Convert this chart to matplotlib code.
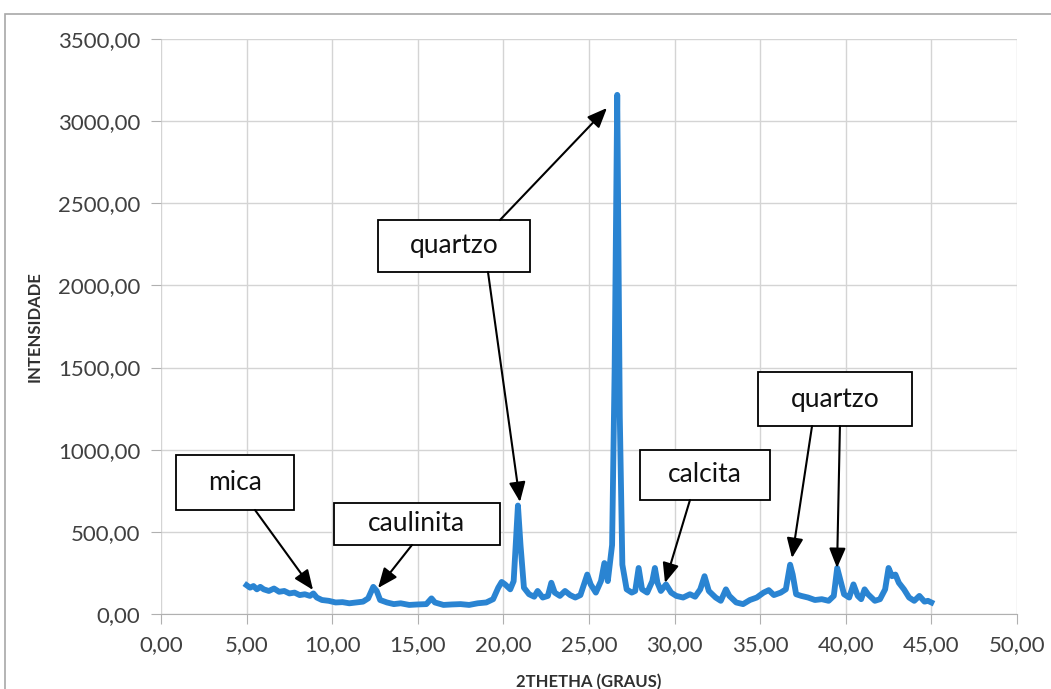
import numpy as np
import matplotlib
matplotlib.use("Agg")
import matplotlib.pyplot as plt
from matplotlib.patches import Rectangle
from matplotlib.ticker import FuncFormatter, MultipleLocator

# difratograma (2theta em graus, intensidade)
theta = [5.0, 5.2, 5.4, 5.6, 5.8, 6.0, 6.3, 6.6, 6.9, 7.2, 7.5, 7.8, 8.1, 8.4,
         8.7, 8.9, 9.1, 9.4, 9.8, 10.2, 10.6, 11.0, 11.4, 11.8, 12.1, 12.4,
         12.6, 12.8, 13.2, 13.6, 14.0, 14.5, 15.0, 15.5, 15.8, 16.0, 16.5,
         17.0, 17.5, 18.0, 18.5, 19.0, 19.4, 19.7, 19.9, 20.1, 20.4, 20.6,
         20.85, 21.0, 21.2, 21.5, 21.8, 22.0, 22.3, 22.6, 22.8, 23.0, 23.3,
         23.6, 23.9, 24.2, 24.5, 24.9, 25.1, 25.4, 25.7, 25.9, 26.1, 26.35,
         26.5, 26.65, 26.8, 26.95, 27.2, 27.5, 27.7, 27.9, 28.1, 28.4, 28.7,
         28.85, 29.0, 29.2, 29.5, 29.8, 30.1, 30.5, 30.9, 31.2, 31.5, 31.75,
         32.0, 32.4, 32.7, 33.0, 33.2, 33.6, 34.0, 34.4, 34.8, 35.2, 35.5,
         35.8, 36.2, 36.5, 36.75, 36.9, 37.1, 37.4, 37.8, 38.2, 38.6, 39.0,
         39.3, 39.5, 39.7, 39.9, 40.2, 40.45, 40.7, 40.9, 41.1, 41.3, 41.7,
         42.0, 42.3, 42.5, 42.7, 42.9, 43.1, 43.4, 43.7, 44.0, 44.3, 44.6,
         44.8, 45.0]
intens = [175, 160, 170, 150, 165, 150, 140, 155, 135, 140, 125, 130, 115, 120,
          110, 125, 100, 85, 80, 70, 72, 65, 70, 75, 95, 165,
          140, 85, 70, 60, 65, 55, 58, 60, 95, 70, 55,
          58, 60, 55, 65, 70, 90, 160, 195, 180, 150, 200,
          660, 420, 160, 120, 105, 140, 100, 110, 190, 130, 110,
          140, 115, 100, 115, 240, 180, 130, 200, 310, 200, 420,
          1500, 3160, 1200, 300, 150, 130, 140, 280, 150, 130, 200,
          280, 190, 140, 180, 130, 110, 100, 120, 105, 150, 230,
          140, 100, 80, 150, 110, 70, 60, 85, 100, 130, 145,
          115, 130, 150, 300, 240, 120, 110, 100, 85, 90, 80,
          110, 280, 200, 120, 100, 180, 110, 90, 150, 120, 80,
          90, 150, 280, 230, 240, 190, 150, 100, 80, 110, 75,
          80, 70]

# rotulos: texto, caixa (x0, x1, y0, y1), setas [(inicio, ponta)]
labels = ["mica", "caulinita", "quartzo", "calcita", "quartzo"]
boxes = [(0.88, 7.77, 633, 968), (10.08, 19.8, 420, 676),
         (12.68, 21.55, 2082, 2398), (27.98, 35.57, 694, 998),
         (34.87, 43.87, 1144, 1473)]
arrows = [[((5.49, 633), (8.88, 146))],
          [((14.66, 420), (12.68, 158))],
          [((19.8, 2398), (26.05, 3080)), ((19.1, 2082), (20.97, 682))],
          [((30.9, 694), (29.44, 189))],
          [((38.03, 1144), (36.86, 341)), ((39.66, 1144), (39.49, 280))]]

plt.rcParams["font.family"] = ["Lato", "DejaVu Sans"]

fig = plt.figure(figsize=(10.51, 6.89), dpi=100)
ax = fig.add_axes([0.1532, 0.1089, 0.8144, 0.8345])

# moldura externa do grafico
fig.add_artist(Rectangle((0.0048, -0.05), 1.2, 0.05 + 0.979, transform=fig.transFigure,
                         fill=False, edgecolor="#a8a8a8", lw=1.2))

ax.plot(theta, intens, color="#2a84d2", lw=4.2, solid_joinstyle="round")

ax.set_xlim(0, 50)
ax.set_ylim(0, 3500)
ax.xaxis.set_major_locator(MultipleLocator(5))
ax.yaxis.set_major_locator(MultipleLocator(500))
fmt = FuncFormatter(lambda v, p: f"{v:.2f}".replace(".", ","))
ax.xaxis.set_major_formatter(fmt)
ax.yaxis.set_major_formatter(fmt)
ax.grid(True, color="#d4d4d4", lw=1)
ax.set_axisbelow(True)
for s in ["top", "right", "left"]:
    ax.spines[s].set_visible(False)
ax.spines["bottom"].set_color("#b0b0b0")
ax.tick_params(axis="both", length=7, color="#b0b0b0", labelsize=16,
               labelcolor="#404040", pad=8)

ax.set_xlabel("2THETHA (GRAUS)", fontsize=12, fontweight="bold", color="#303030")
ax.xaxis.set_label_coords(0.5, -0.105)
ax.set_ylabel("INTENSIDADE", fontsize=12, fontweight="bold", color="#303030")
ax.yaxis.set_label_coords(-0.138, 0.5)

for txt, (x0, x1, y0, y1), arr in zip(labels, boxes, arrows):
    ax.add_patch(Rectangle((x0, y0), x1 - x0, y1 - y0, facecolor="white",
                           edgecolor="black", lw=1.3, zorder=5))
    ax.text((x0 + x1) / 2, (y0 + y1) / 2, txt, ha="center", va="center",
            fontsize=19, color="#111111", zorder=6)
    for start, tip in arr:
        ax.annotate("", xy=tip, xytext=start, zorder=6,
                    arrowprops=dict(arrowstyle="-|>,head_length=1.2,head_width=0.5",
                                    color="black", lw=1.5, shrinkA=0, shrinkB=0))

fig.savefig("out.png", dpi=100)
